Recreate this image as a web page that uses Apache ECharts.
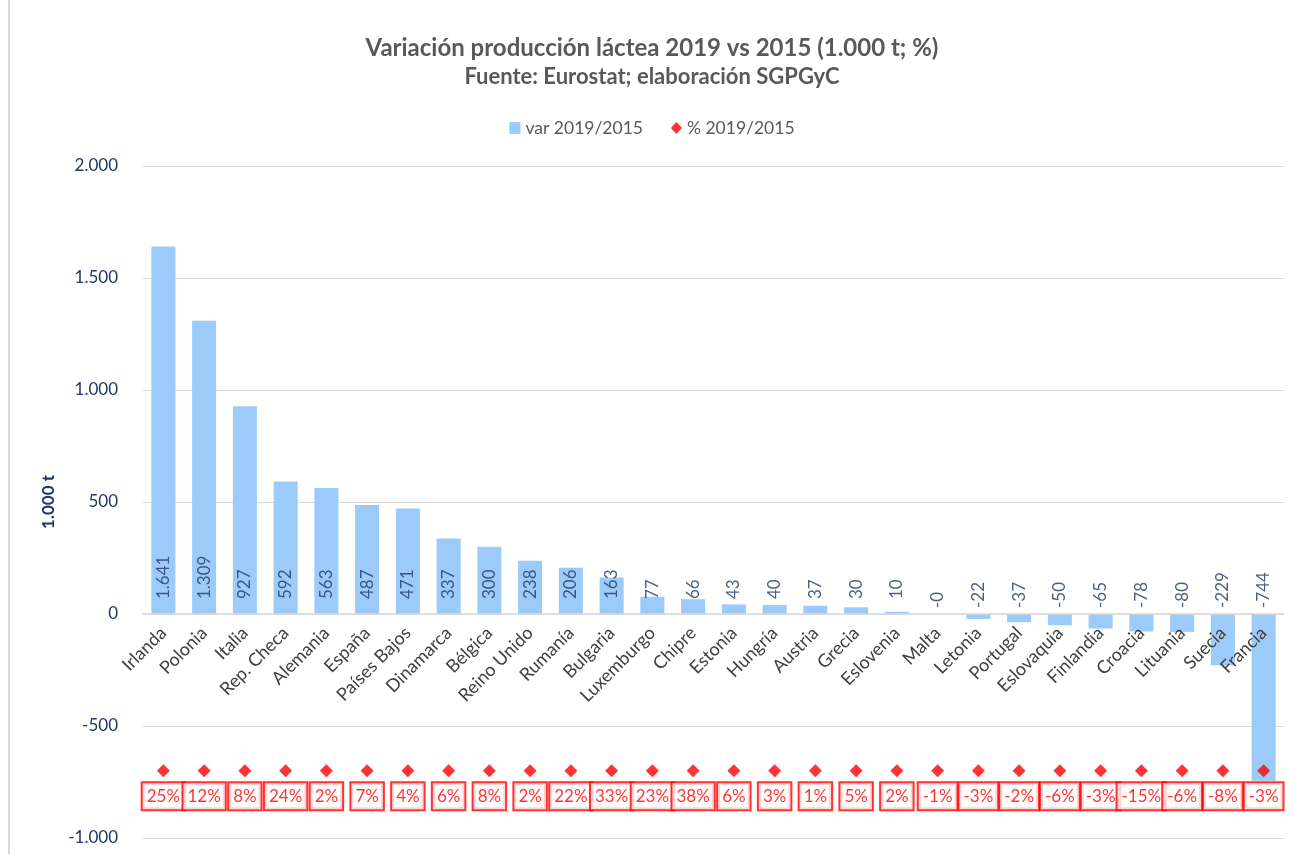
<!DOCTYPE html>
<html>
<head>
<meta charset="utf-8">
<script src="https://cdn.jsdelivr.net/npm/echarts@6/dist/echarts.min.js"></script>
<style>
  html, body { margin: 0; padding: 0; background: #fff; }
  #chart { position: absolute; left: 8px; top: 0; width: 1286px; height: 854px; border-left: 2px solid #d9d9d9; box-sizing: border-box; }
</style>
</head>
<body>
<div id="chart"></div>
<script>
// paises ordenados por variacion absoluta
var paises = ['Irlanda', 'Polonia', 'Italia', 'Rep. Checa', 'Alemania', 'España', 'Países Bajos', 'Dinamarca', 'Bélgica', 'Reino Unido',
  'Rumanía', 'Bulgaria', 'Luxemburgo', 'Chipre', 'Estonia', 'Hungría', 'Austria', 'Grecia', 'Eslovenia', 'Malta',
  'Letonia', 'Portugal', 'Eslovaquia', 'Finlandia', 'Croacia', 'Lituania', 'Suecia', 'Francia'];
// variacion 2019/2015 (1.000 t)
var variacion = [1641, 1309, 927, 592, 563, 487, 471, 337, 300, 238,
  206, 163, 77, 66, 43, 40, 37, 30, 10, -0.3,
  -22, -37, -50, -65, -78, -80, -229, -744];
// % 2019/2015
var porcentaje = [25, 12, 8, 24, 2, 7, 4, 6, 8, 2,
  22, 33, 23, 38, 6, 3, 1, 5, 2, -1,
  -3, -2, -6, -3, -15, -6, -8, -3];
// altura fija a la que se dibujan los rombos
var nivelRombos = -700;
// rango del eje
var yMin = -1000, yMax = 2000, yPaso = 500;

function fmt(v) {
  var s = Math.round(Math.abs(v)).toString().replace(/\B(?=(\d{3})+(?!\d))/g, '.');
  return (v < 0 ? '-' : '') + s;
}

var myChart = echarts.init(document.getElementById('chart'));
var fuente = 'Lato, "Open Sans", sans-serif';

var gridTop = 166, gridBottom = 16;
var altoGrid = myChart.getHeight() - gridTop - gridBottom;
// el eje de categorias se coloca a la altura del cero
var desplazamientoCero = -altoGrid * (0 - yMin) / (yMax - yMin);

var option = {
  textStyle: { fontFamily: fuente },
  title: {
    text: 'Variación producción láctea 2019 vs 2015 (1.000 t; %)',
    subtext: 'Fuente: Eurostat; elaboración SGPGyC',
    left: 'center',
    top: 31,
    itemGap: 6,
    textStyle: { fontSize: 24, fontWeight: 'bold', color: '#595959', fontFamily: fuente },
    subtextStyle: { fontSize: 22, fontWeight: 'bold', color: '#595959', fontFamily: fuente }
  },
  legend: {
    top: 114,
    left: 'center',
    itemGap: 28,
    itemWidth: 11,
    itemHeight: 12,
    textStyle: { fontSize: 17.5, color: '#595959' },
    data: [
      { name: 'var 2019/2015', icon: 'rect' },
      { name: '% 2019/2015', icon: 'diamond' }
    ]
  },
  grid: { left: 133, right: 10, top: gridTop, bottom: gridBottom, outerBoundsMode: 'none' },
  xAxis: {
    type: 'category',
    data: paises,
    z: 5,
    offset: desplazamientoCero,
    axisLine: { onZero: false, lineStyle: { color: '#d9d9d9', width: 1.5 } },
    axisTick: { show: false },
    axisLabel: { rotate: 45, fontSize: 18, color: '#404040', interval: 0, margin: 16 }
  },
  yAxis: {
    type: 'value',
    min: yMin,
    max: yMax,
    interval: yPaso,
    name: '1.000 t',
    nameLocation: 'middle',
    nameGap: 84,
    nameRotate: 90,
    nameTextStyle: { fontSize: 17, color: '#1f3864', fontWeight: 'bold' },
    axisLabel: { fontSize: 17, color: '#1f3864', margin: 25, formatter: fmt },
    splitLine: { lineStyle: { color: '#d9d9d9' } },
    axisLine: { show: false },
    axisTick: { show: false }
  },
  series: [
    {
      name: 'var 2019/2015',
      type: 'bar',
      data: variacion,
      barCategoryGap: '41%',
      itemStyle: { color: '#9dcbf9' }
    },
    {
      // etiquetas de la variacion, siempre justo encima del eje
      name: 'etiquetas',
      type: 'scatter',
      symbolSize: 0,
      silent: true,
      z: 4,
      data: variacion.map(function (v, i) {
        return { value: [i, 0, v], label: { distance: v < 0 ? 6 : 15 } };
      }),
      label: {
        show: true,
        position: 'top',
        rotate: 90,
        align: 'left',
        verticalAlign: 'middle',
        fontSize: 17,
        color: '#1f3864',
        formatter: function (p) { return fmt(p.value[2]); }
      }
    },
    {
      name: '% 2019/2015',
      type: 'scatter',
      symbol: 'diamond',
      symbolSize: 13,
      z: 6,
      itemStyle: { color: '#ff0000' },
      data: porcentaje.map(function (v, i) { return [i, nivelRombos, v]; }),
      label: {
        show: true,
        position: 'bottom',
        distance: 6,
        fontSize: 17,
        color: '#ff0000',
        backgroundColor: '#fff',
        borderColor: '#ff0000',
        borderWidth: 2,
        padding: [5, 4, 4, 4],
        formatter: function (p) { return p.value[2] + '%'; }
      }
    }
  ]
};

myChart.setOption(option);
</script>
</body>
</html>
